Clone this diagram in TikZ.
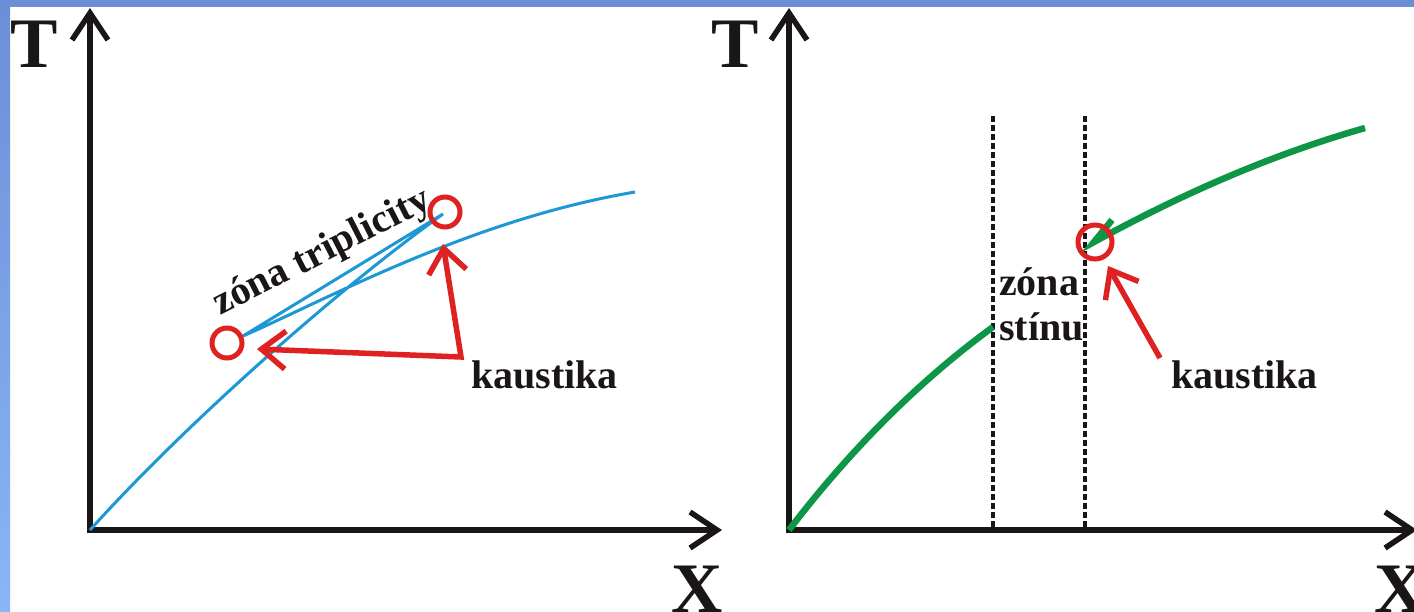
\documentclass[tikz,border=0pt]{standalone}
\usepackage{fontspec}
\setmainfont{Liberation Serif}
\usetikzlibrary{arrows.meta}
\definecolor{bgblue}{RGB}{108,142,214}
\definecolor{bgbluelight}{RGB}{136,182,248}
\definecolor{ink}{RGB}{26,22,22}
\definecolor{cblue}{RGB}{28,152,214}
\definecolor{cgreen}{RGB}{12,150,70}
\definecolor{cred}{RGB}{222,34,34}
\begin{document}
\begin{tikzpicture}[x=1pt,y=-1pt,
  axisline/.style={draw=ink, line width=5.5pt},
  axisarrow/.style={axisline, -{Straight Barb[length=27pt,width=36pt]}},
  bigletter/.style={text=ink, font=\bfseries\fontsize{71}{71}\selectfont, inner sep=0pt, anchor=base west},
  lbl/.style={text=ink, font=\bfseries\fontsize{40}{45}\selectfont, inner sep=0pt, anchor=base west},
  bluecurve/.style={draw=cblue, line width=3pt},
  greencurve/.style={draw=cgreen, line width=6.5pt},
  redring/.style={draw=cred, line width=5pt, circle, inner sep=0pt},
  redarrow/.style={draw=cred, line width=5.5pt, line join=miter},
  zoneline/.style={draw=ink, line width=3.2pt, dash pattern=on 6pt off 3pt}
]
\useasboundingbox (0,0) rectangle (1414,611);
\fill[white] (0,0) rectangle (1414,611);
\fill[bgblue] (0,0) rectangle (1414,7);
\shade[top color=bgblue, bottom color=bgbluelight] (0,0) rectangle (10,611);

% ---------- left panel ----------
\coordinate (O1) at (90,530);
\coordinate (Y1b) at (90,532.75);
\coordinate (Y1t) at (90,8);
\coordinate (X1b) at (87.25,530);
\coordinate (X1t) at (722,530);
\draw[axisarrow] (Y1b) -- (Y1t);
\draw[axisarrow] (X1b) -- (X1t);
\node[bigletter] (T1) at (10,67) {T};
\node[bigletter] (X1) at (671,612) {X};

\coordinate (cuspU) at (443,214);
\coordinate (cuspL) at (243,336);
\coordinate (bE) at (635,192);
\draw[bluecurve] (O1) .. controls (180,430) and (330,295) .. (cuspU) -- (cuspL)
   .. controls (330,298) and (470,220) .. (bE);

\node[redring, minimum size=30pt] (cL) at (227,343) {};
\node[redring, minimum size=30pt] (cU) at (445,212) {};

\coordinate (tipL) at (257,349);
\coordinate (vtx) at (461,357);
\coordinate (tipU) at (443,244);
\draw[redarrow, {Straight Barb[length=24pt,width=38pt]}-{Straight Barb[length=24pt,width=38pt]}]
   (tipL) -- (vtx) -- (tipU);

\node[lbl] (k1) at (471,388) {kaustika};
\node[lbl, rotate=27] (zt) at (220,316) {zóna triplicity};

% ---------- right panel ----------
\coordinate (O2) at (789,530);
\coordinate (Y2b) at (789,532.75);
\coordinate (Y2t) at (789,8);
\coordinate (X2b) at (786.25,530);
\coordinate (X2t) at (1417,530);
\draw[axisarrow] (Y2b) -- (Y2t);
\draw[axisarrow] (X2b) -- (X2t);
\node[bigletter] (T2) at (711,67) {T};
\node[bigletter] (X2) at (1374,612) {X};

\coordinate (d1t) at (993,116);
\coordinate (d1b) at (993,528);
\coordinate (d2t) at (1085,116);
\coordinate (d2b) at (1085,528);
\draw[zoneline] (d1t) -- (d1b);
\draw[zoneline] (d2t) -- (d2b);

\coordinate (gL) at (993,327);
\draw[greencurve] (O2) .. controls (850,450) and (920,380) .. (gL);
\coordinate (gS) at (1094,242);
\coordinate (gE) at (1365,128);
\coordinate (gB) at (1112,220);
\draw[greencurve] (gE) .. controls (1270,155) and (1180,195) .. (gS) -- (gB);

\node[redring, minimum size=34pt] (cR) at (1095,242) {};
\coordinate (tailR) at (1160,358);
\coordinate (tipR) at (1108,266);
\draw[redarrow, -{Straight Barb[length=24pt,width=38pt]}] (tailR) -- (tipR);

\node[lbl] (zs1) at (999,295) {zóna};
\node[lbl] (zs2) at (999,340) {stínu};
\node[lbl] (k2) at (1171,388) {kaustika};
\end{tikzpicture}
\end{document}
